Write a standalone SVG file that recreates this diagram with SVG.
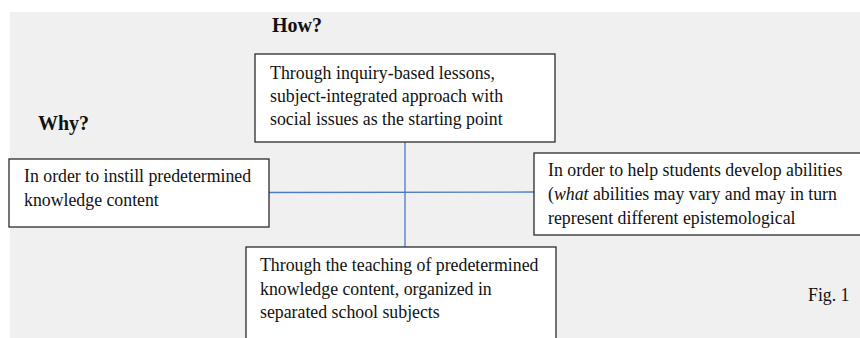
<svg xmlns="http://www.w3.org/2000/svg" width="860" height="338" viewBox="0 0 860 338">
  <style>
    .box { fill: #ffffff; stroke: #2b2b2b; stroke-width: 1.3; }
    .txt { font-family: "Liberation Serif", "Times New Roman", serif; font-size: 17.8px; fill: #111111; }
    .head { font-family: "Liberation Serif", "Times New Roman", serif; font-size: 20px; font-weight: bold; fill: #111111; }
    .link { stroke: #4a7cc4; stroke-width: 1.3; fill: none; }
  </style>
  <rect x="0" y="0" width="860" height="338" fill="#ffffff"/>
  <rect x="10" y="12" width="850" height="326" fill="#f0f0f0"/>

  <text class="head" x="272" y="32">How?</text>
  <text class="head" x="38" y="130">Why?</text>

  <g id="connectors">
    <line class="link" x1="405" y1="142" x2="405" y2="247"/>
    <line class="link" x1="269" y1="192.5" x2="534" y2="192"/>
  </g>

  <g id="node-how-inquiry">
    <rect class="box" x="255" y="54" width="300" height="88"/>
    <text class="txt" x="270" y="79" textLength="225" lengthAdjust="spacing">Through inquiry-based lessons,</text>
    <text class="txt" x="270" y="102">subject-integrated approach with</text>
    <text class="txt" x="270" y="125">social issues as the starting point</text>
  </g>

  <g id="node-why-instill">
    <rect class="box" x="9" y="159" width="260" height="68"/>
    <text class="txt" x="24" y="182">In order to instill predetermined</text>
    <text class="txt" x="24" y="206">knowledge content</text>
  </g>

  <g id="node-why-abilities">
    <rect class="box" x="534" y="153" width="340" height="82"/>
    <text class="txt" x="548" y="176">In order to help students develop abilities</text>
    <text class="txt" x="548" y="200">(<tspan font-style="italic">what</tspan> abilities may vary and may in turn</text>
    <text class="txt" x="548" y="224">represent different epistemological</text>
  </g>

  <g id="node-how-teaching">
    <rect class="box" x="246" y="247" width="310" height="100"/>
    <text class="txt" x="260" y="271">Through the teaching of predetermined</text>
    <text class="txt" x="260" y="295">knowledge content, organized in</text>
    <text class="txt" x="260" y="318">separated school subjects</text>
  </g>

  <text class="txt" x="808" y="301">Fig. 1</text>
</svg>
